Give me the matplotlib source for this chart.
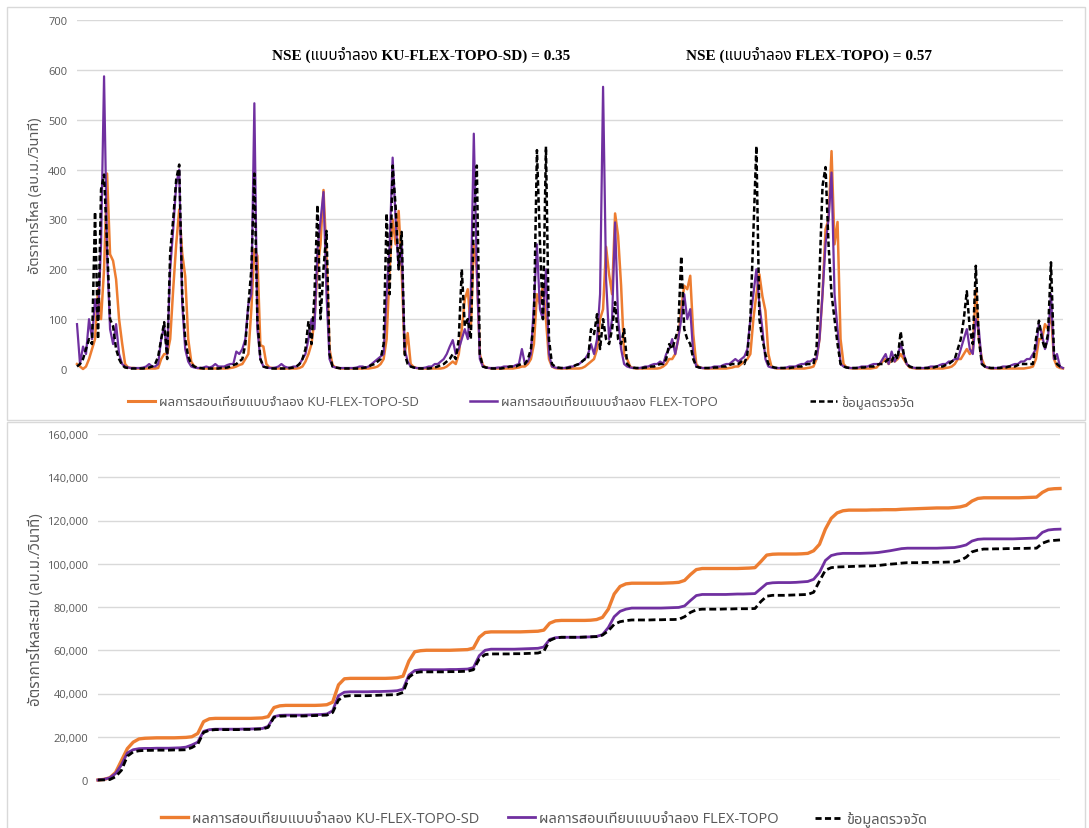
import numpy as np
import matplotlib
matplotlib.use("Agg")
import matplotlib.pyplot as plt
from matplotlib import font_manager
from matplotlib.ft2font import FT2Font
from matplotlib.lines import Line2D
from matplotlib.patches import Rectangle
from matplotlib.ticker import FuncFormatter

# ---------------------------------------------------------------- data
# daily discharge (m3/s) -- calibration of KU-FLEX-TOPO-SD, FLEX-TOPO and observed
flow_ku_sd = [
    10, 5, 0, 5, 20, 40, 60, 160, 100, 200,
    392, 230, 217, 180, 100, 52, 10, 3, 2, 2,
    1, 1, 1, 1, 1, 1, 1, 2, 20, 30,
    30, 60, 160, 250, 320, 232, 186, 60, 15, 5,
    2, 1, 1, 1, 1, 1, 1, 1, 1, 1,
    1, 2, 3, 5, 8, 10, 20, 30, 120, 240,
    227, 48, 45, 10, 3, 2, 1, 1, 1, 1,
    1, 1, 1, 1, 2, 5, 15, 30, 50, 100,
    200, 250, 359, 227, 40, 8, 3, 2, 1, 1,
    1, 1, 1, 1, 1, 1, 1, 1, 2, 3,
    5, 10, 20, 60, 200, 300, 250, 317, 200, 30,
    72, 10, 4, 2, 1, 1, 1, 1, 1, 1,
    1, 1, 2, 5, 10, 15, 10, 30, 80, 140,
    160, 80, 250, 200, 30, 8, 3, 2, 1, 1,
    1, 1, 1, 1, 1, 1, 2, 3, 5, 5,
    10, 20, 50, 150, 130, 169, 100, 20, 5, 2,
    1, 1, 1, 1, 1, 1, 1, 1, 2, 5,
    10, 15, 20, 40, 100, 120, 245, 190, 150, 312,
    267, 167, 30, 20, 5, 2, 1, 1, 1, 1,
    1, 1, 1, 1, 2, 5, 10, 20, 20, 30,
    60, 120, 167, 160, 187, 70, 10, 3, 2, 1,
    1, 1, 1, 1, 1, 1, 1, 2, 3, 5,
    5, 10, 15, 20, 30, 100, 150, 190, 146, 117,
    30, 5, 2, 1, 1, 1, 1, 1, 1, 1,
    1, 1, 1, 2, 3, 5, 20, 60, 150, 280,
    300, 437, 250, 295, 60, 10, 3, 2, 1, 1,
    1, 1, 1, 1, 1, 2, 3, 10, 15, 20,
    10, 20, 15, 20, 30, 20, 10, 3, 2, 1,
    1, 1, 1, 1, 1, 1, 1, 1, 1, 2,
    3, 5, 10, 20, 20, 30, 40, 30, 40, 160,
    60, 20, 5, 2, 1, 1, 1, 1, 1, 1,
    1, 1, 1, 1, 1, 1, 2, 3, 5, 20,
    60, 60, 90, 80, 112, 20, 5, 2, 1,
]
flow_flex = [
    90, 10, 45, 30, 100, 60, 140, 100, 250, 587,
    230, 80, 50, 90, 30, 10, 5, 3, 2, 2,
    2, 2, 3, 5, 10, 5, 5, 10, 60, 85,
    30, 200, 280, 370, 400, 130, 40, 15, 5, 3,
    2, 2, 3, 5, 3, 5, 10, 5, 5, 5,
    8, 10, 10, 35, 30, 40, 60, 130, 150, 533,
    80, 20, 5, 3, 2, 2, 3, 5, 10, 5,
    3, 3, 5, 5, 10, 20, 30, 60, 100, 80,
    240, 297, 355, 150, 20, 5, 3, 2, 2, 2,
    2, 2, 2, 3, 5, 5, 3, 5, 10, 15,
    20, 25, 30, 150, 250, 424, 300, 200, 250, 40,
    15, 5, 3, 2, 2, 2, 3, 5, 5, 10,
    10, 15, 20, 30, 45, 58, 30, 40, 60, 80,
    60, 150, 472, 200, 20, 5, 3, 2, 2, 2,
    3, 3, 5, 5, 5, 5, 8, 10, 40, 10,
    15, 30, 130, 250, 120, 100, 200, 30, 5, 3,
    2, 2, 2, 3, 5, 5, 8, 10, 15, 20,
    30, 50, 30, 60, 150, 566, 180, 60, 100, 294,
    100, 40, 10, 5, 3, 2, 2, 2, 3, 5,
    5, 8, 10, 10, 15, 10, 30, 40, 60, 30,
    60, 100, 150, 100, 120, 30, 5, 3, 2, 2,
    2, 3, 5, 5, 5, 8, 10, 10, 15, 20,
    15, 20, 25, 40, 100, 150, 200, 130, 80, 20,
    5, 3, 2, 2, 2, 2, 3, 5, 5, 5,
    8, 10, 10, 15, 15, 20, 20, 60, 150, 250,
    300, 394, 150, 80, 10, 5, 3, 2, 2, 2,
    3, 5, 5, 5, 8, 10, 10, 10, 20, 30,
    10, 35, 15, 25, 50, 30, 10, 5, 3, 2,
    2, 2, 2, 3, 5, 5, 5, 8, 10, 10,
    15, 15, 20, 20, 40, 60, 80, 40, 30, 100,
    80, 10, 5, 3, 2, 2, 2, 3, 5, 5,
    5, 8, 10, 10, 15, 15, 20, 20, 30, 40,
    90, 70, 40, 60, 150, 20, 30, 5, 2,
]
flow_obs = [
    5, 10, 20, 40, 60, 50, 315, 60, 360, 390,
    250, 100, 86, 40, 20, 8, 3, 2, 1, 1,
    1, 1, 1, 2, 3, 5, 10, 25, 60, 94,
    20, 234, 300, 380, 410, 150, 60, 25, 10, 5,
    3, 2, 1, 1, 1, 1, 1, 1, 2, 2,
    3, 5, 8, 10, 15, 20, 50, 127, 200, 392,
    100, 20, 5, 3, 2, 1, 1, 1, 1, 1,
    1, 2, 3, 5, 10, 20, 40, 96, 50, 150,
    329, 100, 200, 277, 30, 5, 3, 2, 1, 1,
    1, 1, 1, 1, 1, 2, 3, 5, 8, 10,
    15, 20, 50, 312, 150, 408, 325, 200, 275, 30,
    10, 5, 3, 2, 1, 1, 1, 1, 2, 3,
    5, 8, 10, 15, 20, 30, 20, 60, 200, 86,
    100, 60, 300, 408, 30, 5, 3, 2, 1, 1,
    1, 1, 2, 3, 5, 5, 5, 8, 10, 10,
    20, 40, 100, 439, 255, 100, 446, 60, 10, 5,
    3, 2, 2, 2, 3, 5, 8, 10, 15, 20,
    20, 80, 70, 110, 40, 100, 60, 50, 80, 134,
    60, 50, 80, 10, 5, 3, 2, 2, 2, 3,
    3, 5, 5, 8, 10, 10, 20, 50, 40, 60,
    80, 226, 80, 60, 50, 20, 5, 3, 2, 2,
    2, 2, 3, 3, 5, 5, 5, 8, 10, 10,
    10, 15, 10, 30, 100, 275, 447, 100, 60, 30,
    10, 5, 3, 2, 2, 2, 2, 2, 3, 3,
    5, 5, 8, 10, 10, 10, 40, 190, 367, 405,
    250, 150, 100, 50, 10, 5, 3, 2, 2, 2,
    2, 3, 3, 5, 5, 5, 8, 10, 10, 15,
    20, 15, 30, 20, 75, 30, 10, 5, 3, 2,
    2, 2, 2, 2, 3, 3, 5, 5, 5, 8,
    10, 15, 20, 40, 60, 100, 156, 80, 50, 207,
    60, 10, 5, 3, 2, 2, 2, 2, 3, 3,
    5, 5, 5, 8, 10, 10, 10, 10, 10, 60,
    97, 60, 40, 70, 214, 30, 10, 5, 2,
]

# cumulative flow, sampled every second time step
cum_ku_sd = [
    0, 300, 1000, 3500, 9000, 14500, 17500, 19000, 19300, 19400,
    19500, 19500, 19500, 19500, 19600, 19700, 20000, 21500, 27000, 28300,
    28500, 28500, 28500, 28500, 28500, 28500, 28500, 28600, 28700, 29300,
    33500, 34300, 34500, 34500, 34500, 34500, 34500, 34500, 34600, 34800,
    36000, 44000, 46800, 47000, 47000, 47000, 47000, 47000, 47000, 47000,
    47100, 47300, 48000, 55000, 59300, 59800, 60000, 60000, 60000, 60000,
    60000, 60100, 60200, 60300, 61000, 66000, 68200, 68500, 68500, 68500,
    68500, 68500, 68500, 68600, 68700, 68800, 69300, 72500, 73600, 73800,
    73800, 73800, 73800, 73800, 73900, 74200, 75200, 79000, 86000, 89500,
    90700, 91000, 91000, 91000, 91000, 91000, 91000, 91100, 91200, 91400,
    92300, 95000, 97300, 97800, 97800, 97800, 97800, 97800, 97800, 97800,
    97900, 98000, 98200, 101000, 104000, 104400, 104500, 104500, 104500, 104500,
    104600, 104800, 106000, 109000, 116000, 121000, 123500, 124500, 124800, 124800,
    124800, 124800, 124900, 124900, 125000, 125000, 125000, 125200, 125300, 125400,
    125500, 125600, 125700, 125800, 125800, 125800, 126000, 126300, 127000, 129000,
    130200, 130500, 130500, 130500, 130500, 130500, 130500, 130500, 130600, 130700,
    130800, 133000, 134400, 134700, 134800,
]
cum_flex = [
    0, 300, 1000, 3000, 7000, 12500, 14000, 14500, 14600, 14600,
    14700, 14700, 14700, 14800, 14900, 15200, 16200, 17500, 22500, 23300,
    23500, 23500, 23500, 23500, 23500, 23600, 23600, 23700, 23800, 24800,
    29300, 29900, 30000, 30000, 30000, 30000, 30100, 30200, 30300, 30500,
    32000, 39000, 40600, 40800, 40800, 40800, 40800, 40900, 40900, 41000,
    41100, 41300, 42000, 48500, 50600, 51000, 51000, 51000, 51000, 51000,
    51100, 51100, 51200, 51300, 52000, 57500, 60000, 60500, 60500, 60500,
    60500, 60500, 60600, 60700, 60800, 60900, 61500, 65000, 65800, 66000,
    66000, 66000, 66000, 66100, 66200, 66400, 67200, 70500, 75500, 78000,
    79000, 79500, 79500, 79500, 79500, 79500, 79500, 79600, 79700, 79800,
    80500, 83000, 85300, 85800, 85800, 85800, 85800, 85800, 85900, 86000,
    86000, 86100, 86200, 88500, 90800, 91200, 91300, 91300, 91300, 91400,
    91600, 91800, 92800, 96000, 101500, 103800, 104500, 104800, 104800, 104800,
    104800, 104900, 105000, 105200, 105600, 106000, 106500, 107000, 107200, 107200,
    107200, 107200, 107200, 107200, 107300, 107400, 107500, 108000, 108700, 110500,
    111300, 111500, 111500, 111500, 111500, 111500, 111500, 111600, 111700, 111800,
    111900, 114500, 115600, 115900, 116000,
]
cum_obs = [
    0, 50, 200, 1500, 4500, 11000, 13000, 13500, 13700, 13700,
    13800, 13800, 13800, 13900, 13900, 14000, 15000, 16500, 22000, 23000,
    23300, 23300, 23300, 23300, 23300, 23400, 23400, 23500, 23600, 24300,
    29000, 29500, 29600, 29600, 29600, 29600, 29700, 29800, 29900, 30000,
    31200, 37000, 38700, 39000, 39000, 39000, 39000, 39100, 39200, 39300,
    39400, 39500, 40500, 47500, 49600, 50000, 50000, 50000, 50000, 50000,
    50100, 50100, 50200, 50300, 51000, 56000, 58000, 58300, 58300, 58300,
    58300, 58400, 58400, 58500, 58600, 58700, 59500, 64500, 65700, 66000,
    66000, 66000, 66000, 66100, 66200, 66300, 67000, 69000, 72000, 73200,
    73700, 74000, 74000, 74000, 74000, 74100, 74100, 74200, 74200, 74300,
    75500, 77500, 78700, 79000, 79000, 79000, 79000, 79100, 79100, 79200,
    79200, 79200, 79300, 82500, 85000, 85400, 85400, 85400, 85500, 85600,
    85700, 85800, 86800, 92000, 97000, 98200, 98500, 98600, 98700, 98800,
    98900, 99000, 99000, 99200, 99500, 99800, 100000, 100300, 100500, 100500,
    100500, 100600, 100600, 100700, 100700, 100800, 100800, 101500, 103000, 105500,
    106300, 106800, 106800, 106900, 106900, 107000, 107000, 107100, 107100, 107200,
    107200, 109500, 110500, 110800, 111000,
]
cum_step = 2

series_labels = [
    "ผลการสอบเทียบแบบจำลอง KU-FLEX-TOPO-SD",
    "ผลการสอบเทียบแบบจำลอง FLEX-TOPO",
    "ข้อมูลตรวจวัด",
]
nse_labels = [
    "NSE (แบบจำลอง KU-FLEX-TOPO-SD) = 0.35",
    "NSE (แบบจำลอง FLEX-TOPO) = 0.57",
]
ylabel_flow = "อัตราการไหล (ลบ.ม./วินาที)"
ylabel_cum = "อัตราการไหลสะสม (ลบ.ม./วินาที)"
flow_ticks = [0, 100, 200, 300, 400, 500, 600, 700]
cum_ticks = [0, 20000, 40000, 60000, 80000, 100000, 120000, 140000, 160000]


# ---------------------------------------------------------------- fonts
def thai_family():
    preferred = ["Noto Sans Thai", "Noto Sans Thai UI", "Sarabun", "Loma",
                 "Garuda", "Waree", "Umpush", "Tlwg Typo", "Norasi", "Kinnari",
                 "Noto Serif Thai", "Laksaman"]
    found = set()
    for entry in font_manager.fontManager.ttflist:
        try:
            if 0x0E01 in FT2Font(entry.fname).get_charmap():
                found.add(entry.name)
        except Exception:
            continue
    for name in preferred:
        if name in found:
            return name
    return sorted(found)[0] if found else None


thai = thai_family()
sans = ["Open Sans"] + ([thai] if thai else []) + ["DejaVu Sans"]
serif = ["Liberation Serif"] + ([thai] if thai else []) + ["DejaVu Serif"]
plt.rcParams["font.family"] = sans

TEXT = "#595959"
GRID = "#D9D9D9"
C_KU = "#ED7D31"
C_FLEX = "#7030A0"
C_OBS = "#000000"
OBS_DASH = (0, (2.2, 1.2))

W, H = 1089, 829
fig = plt.figure(figsize=(W / 100, H / 100), dpi=100)


def fx(px):
    return px / W


def fy(py):
    return 1 - py / H


# chart-area frames
for top, bottom in [(8, 421), (423, 835)]:
    fig.patches.append(Rectangle((fx(7), fy(bottom)), fx(1085) - fx(7),
                                 fy(top) - fy(bottom), transform=fig.transFigure,
                                 fill=False, edgecolor=GRID, lw=1.0))

# ---------------------------------------------------------------- top panel
ax1 = fig.add_axes([fx(77), fy(370), fx(1063) - fx(77), fy(21) - fy(370)])
t = np.arange(len(flow_obs))
ax1.plot(t, flow_ku_sd, color=C_KU, lw=1.8, clip_on=False, zorder=3)
ax1.plot(t, flow_flex, color=C_FLEX, lw=1.6, clip_on=False, zorder=4)
ax1.plot(t, flow_obs, color=C_OBS, lw=1.8, ls=OBS_DASH, clip_on=False, zorder=5)
ax1.set_xlim(0, len(flow_obs) - 1)
ax1.set_ylim(0, 700)
ax1.set_yticks(flow_ticks)
ax1.set_xticks([])
ax1.grid(axis="y", color=GRID, lw=1.0)
ax1.set_axisbelow(True)
for s in ax1.spines.values():
    s.set_visible(False)
ax1.tick_params(axis="y", length=0, pad=7, labelsize=8, labelcolor=TEXT)
fig.text(fx(36), fy(196), ylabel_flow, rotation=90, ha="center", va="center",
         fontsize=10.5, color=TEXT)
fig.text(fx(421), fy(55), nse_labels[0], ha="center", va="center",
         fontsize=11, fontweight="bold", color="#000000", family=serif)
fig.text(fx(809), fy(55), nse_labels[1], ha="center", va="center",
         fontsize=11, fontweight="bold", color="#000000", family=serif)

# ---------------------------------------------------------------- bottom panel
ax2 = fig.add_axes([fx(98), fy(781), fx(1060) - fx(98), fy(435) - fy(781)])
tc = np.arange(len(cum_obs)) * cum_step
ax2.plot(tc, cum_ku_sd, color=C_KU, lw=2.4, clip_on=False, zorder=3)
ax2.plot(tc, cum_flex, color=C_FLEX, lw=2.0, clip_on=False, zorder=4)
ax2.plot(tc, cum_obs, color=C_OBS, lw=2.0, ls=(0, (2.5, 1.3)), clip_on=False, zorder=5)
ax2.set_xlim(0, (len(cum_obs) - 1) * cum_step)
ax2.set_ylim(0, 160000)
ax2.set_yticks(cum_ticks)
ax2.yaxis.set_major_formatter(FuncFormatter(lambda v, _: f"{v:,.0f}"))
ax2.set_xticks([])
ax2.grid(axis="y", color=GRID, lw=1.0)
ax2.set_axisbelow(True)
for s in ax2.spines.values():
    s.set_visible(False)
ax2.tick_params(axis="y", length=0, pad=7, labelsize=8, labelcolor=TEXT)
fig.text(fx(36), fy(610), ylabel_cum, rotation=90, ha="center", va="center",
         fontsize=10.8, color=TEXT)

# ---------------------------------------------------------------- legends
# one entry per legend so each key starts where the chart's legend places it
rows = [
    (403, [128, 470, 810], (2.2, 1.8, 1.8), 9.5),
    (820, [161, 508, 815], (2.4, 2.0, 2.0), 10.5),
]
for y_px, starts, lws, fsize in rows:
    handles = [Line2D([], [], color=C_KU, lw=lws[0]),
               Line2D([], [], color=C_FLEX, lw=lws[1]),
               Line2D([], [], color=C_OBS, lw=lws[2], ls=OBS_DASH)]
    for handle, label, x_px in zip(handles, series_labels, starts):
        fig.legend([handle], [label], loc="center left",
                   bbox_to_anchor=(fx(x_px), fy(y_px)), frameon=False,
                   fontsize=fsize, labelcolor=TEXT, handlelength=27 / (fsize * 1.389),
                   handletextpad=0.3, borderpad=0, borderaxespad=0)

fig.savefig("out.png", dpi=100, facecolor="white")
